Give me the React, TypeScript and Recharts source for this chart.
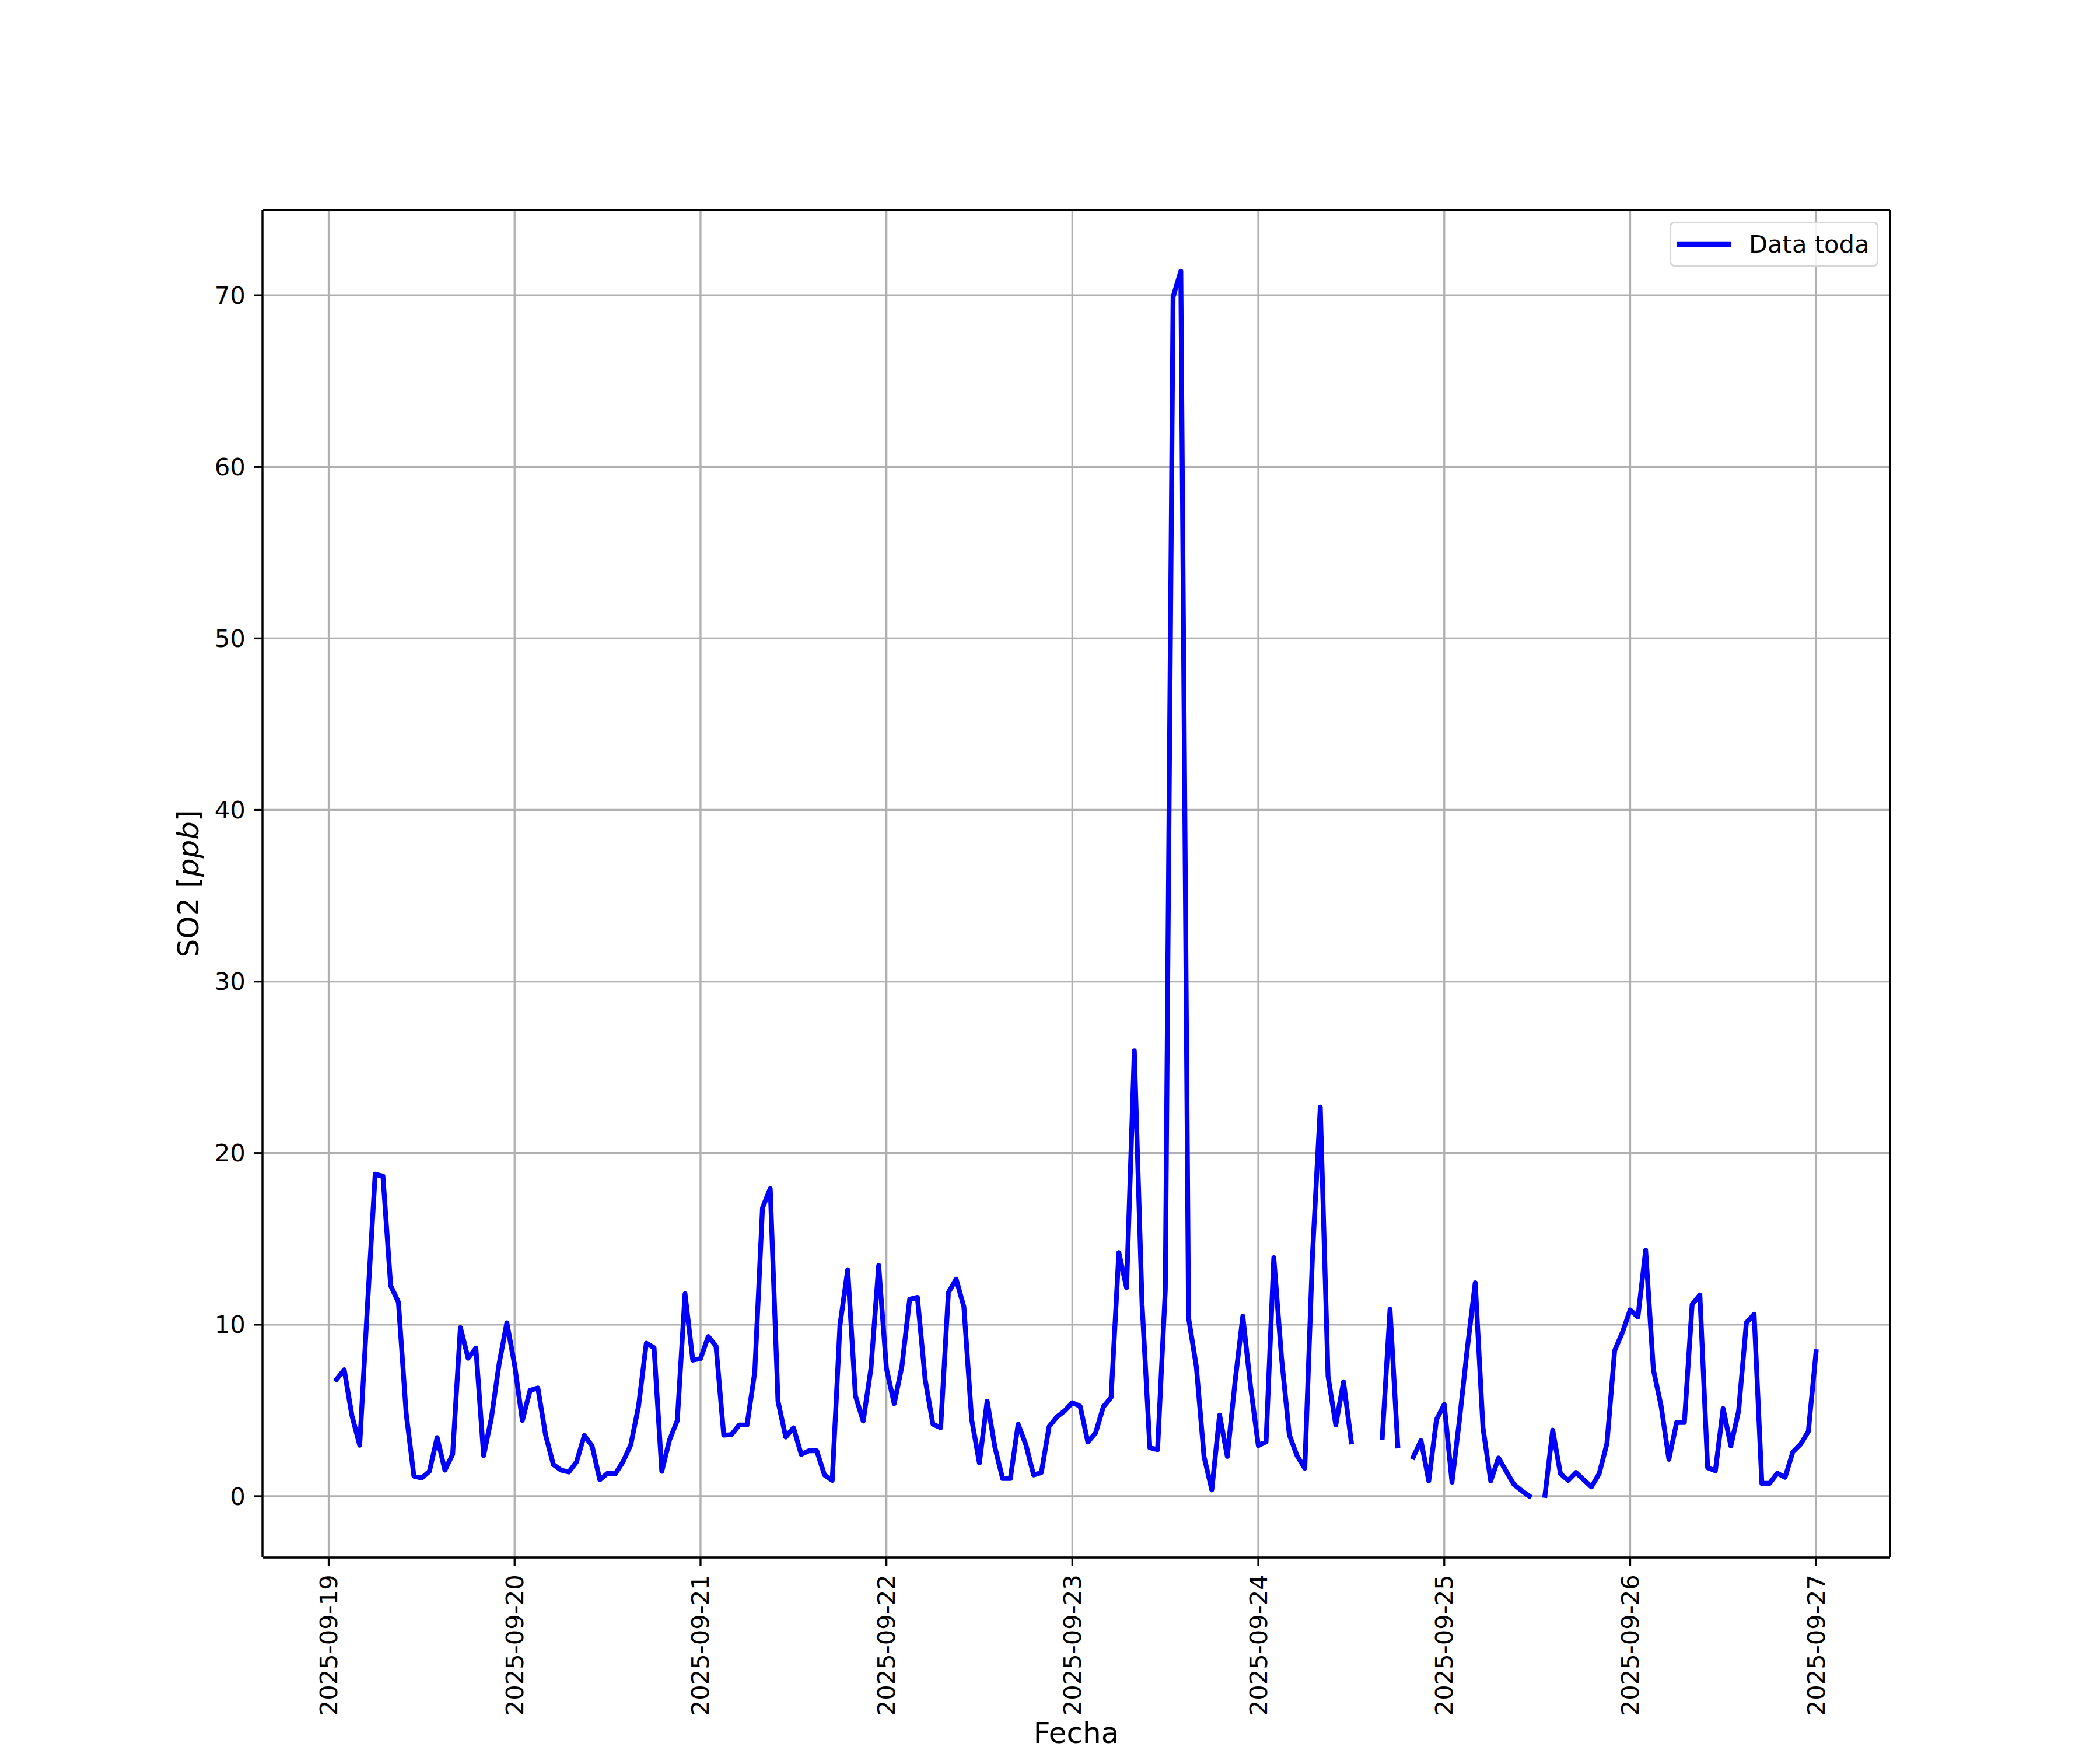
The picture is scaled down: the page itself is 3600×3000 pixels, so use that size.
import React from 'react';
import { LineChart, Line, XAxis, YAxis, CartesianGrid, Legend } from 'recharts';

// ---- data (hourly SO2, ppb) ----
const dateLabels = ['2025-09-19', '2025-09-20', '2025-09-21', '2025-09-22', '2025-09-23', '2025-09-24', '2025-09-25', '2025-09-26', '2025-09-27'];
const tickHours = [0, 24, 48, 72, 96, 120, 144, 168, 192];
const yTicks = [0, 10, 20, 30, 40, 50, 60, 70];
const firstHour = 1; // 2025-09-19 01:00
const so2_0919 = [6.8, 7.37, 4.69, 2.97, 11.1, 18.77, 18.66, 12.27, 11.31, 4.83, 1.17, 1.06, 1.45, 3.42, 1.52, 2.44, 9.83, 8.04, 8.63, 2.37, 4.55, 7.72, 10.11];
const so2_0920 = [7.65, 4.41, 6.17, 6.31, 3.56, 1.85, 1.52, 1.41, 2.01, 3.54, 2.93, 0.96, 1.34, 1.31, 2.01, 3.0, 5.25, 8.92, 8.66, 1.45, 3.28, 4.41, 11.8, 7.93];
const so2_0921 = [8.02, 9.31, 8.75, 3.56, 3.59, 4.15, 4.15, 7.23, 16.8, 17.93, 5.54, 3.45, 3.99, 2.44, 2.65, 2.65, 1.24, 0.92, 9.97, 13.2, 5.85, 4.38, 7.44, 13.45];
const so2_0922 = [7.44, 5.39, 7.58, 11.48, 11.59, 6.8, 4.2, 3.99, 11.87, 12.65, 11.03, 4.48, 1.94, 5.54, 2.86, 1.03, 1.03, 4.2, 3.0, 1.24, 1.38, 4.06, 4.62, 4.97];
const so2_0923 = [5.45, 5.25, 3.16, 3.69, 5.21, 5.76, 14.2, 12.15, 25.96, 11.17, 2.83, 2.71, 12.05, 69.9, 71.4, 10.39, 7.56, 2.29, 0.37, 4.73, 2.32, 6.68, 10.49, 6.39];
const so2_0924 = [2.95, 3.17, 13.9, 8.05, 3.58, 2.36, 1.63, 14.15, 22.68, 6.99, 4.15, 6.67, 3.17, null, null, null, 3.41, 10.89, 2.93, null, 2.28, 3.25, 0.89, 4.47];
const so2_0925 = [5.35, 0.82, 4.6, 8.7, 12.44, 3.99, 0.89, 2.23, 1.45, 0.68, 0.32, 0.0, null, 0.05, 3.85, 1.31, 0.92, 1.38, 0.96, 0.54, 1.31, 3.07, 8.49, 9.55];
const so2_0926 = [10.86, 10.44, 14.34, 7.37, 5.25, 2.15, 4.3, 4.3, 11.17, 11.73, 1.66, 1.48, 5.11, 2.93, 4.97, 10.11, 10.61, 0.75, 0.75, 1.34, 1.1, 2.58, 3.03, 3.77];
const so2_0927 = [8.42];

const allValues: (number | null)[] = [
  ...so2_0919, ...so2_0920, ...so2_0921, ...so2_0922, ...so2_0923,
  ...so2_0924, ...so2_0925, ...so2_0926, ...so2_0927,
];
const data = allValues.map((v, i) => ({ t: firstHour + i, v }));

// matplotlib-like autoscale (5% margins)
const numeric = allValues.filter((v): v is number => v !== null);
const yMin = Math.min(...numeric), yMax = Math.max(...numeric);
const yPad = (yMax - yMin) * 0.05;
const xMin = firstHour, xMax = firstHour + allValues.length - 1;
const xPad = (xMax - xMin) * 0.05;

// ---- styling ----
const PT = 300 / 72;
const FONT = '"DejaVu Sans", sans-serif';
const TICK_FS = 10 * PT;
const LABEL_FS = 12 * PT;
const TICK_LEN = 3.5 * PT;
const TICK_PAD = 3.5 * PT;
const SPINE_W = 0.8 * PT;
const LINE_W = 2 * PT;

const XTick = (props: any) => {
  const { x, y, payload } = props;
  const idx = tickHours.indexOf(payload.value);
  return (
    <g transform={`translate(${x},${y})`}>
      <text transform="rotate(-90)" x={0} y={0} textAnchor="end" dominantBaseline="central"
        fontFamily={FONT} fontSize={TICK_FS} fill="#000">{dateLabels[idx]}</text>
    </g>
  );
};

const YTick = (props: any) => {
  const { x, y, payload } = props;
  return (
    <text x={x} y={y} textAnchor="end" dominantBaseline="central" fontFamily={FONT} fontSize={TICK_FS} fill="#000">
      {payload.value}
    </text>
  );
};

const XLabel = (props: any) => {
  const vb = props.viewBox || { x: 450, y: 2670, width: 2790, height: 1 };
  return (
    <text x={vb.x + vb.width / 2} y={vb.y + 318} textAnchor="middle" fontFamily={FONT} fontSize={LABEL_FS} fill="#000">
      Fecha
    </text>
  );
};

const YLabel = (props: any) => {
  const vb = props.viewBox || { x: 449, y: 360, width: 1, height: 2310 };
  const cx = vb.x + vb.width - 110;
  const cy = vb.y + vb.height / 2;
  return (
    <text transform={`translate(${cx},${cy}) rotate(-90)`} textAnchor="middle" fontFamily={FONT} fontSize={LABEL_FS} fill="#000">
      SO2 [<tspan fontStyle="italic">ppb</tspan>]
    </text>
  );
};

const LegendBox = (props: any) => {
  const item = (props.payload || [])[0] || { value: 'Data toda', color: '#0000ff' };
  return (
    <div style={{
      boxSizing: 'border-box', width: 358, height: 77, border: `${SPINE_W}px solid #d6d6d6`,
      borderRadius: 8, background: 'rgba(255,255,255,0.8)', display: 'flex', alignItems: 'center', paddingLeft: 10,
    }}>
      <svg width={92} height={20} style={{ display: 'block' }}>
        <line x1={0} x2={92} y1={10} y2={10} stroke={item.color} strokeWidth={LINE_W} />
      </svg>
      <span style={{ marginLeft: 31, fontFamily: FONT, fontSize: TICK_FS, color: '#000', lineHeight: 1 }}>{item.value}</span>
    </div>
  );
};

export default function App() {
  return (
    <div style={{ position: 'absolute', left: 0, top: 0, width: 3600, height: 3000, background: '#fff' }}>
      <LineChart width={3600} height={3000} data={data} margin={{ top: 359, right: 359, bottom: 329, left: 449 }}>
        <CartesianGrid stroke="#b0b0b0" strokeWidth={SPINE_W} />
        <XAxis dataKey="t" type="number" domain={[xMin - xPad, xMax + xPad]} allowDataOverflow
          ticks={tickHours} interval={0} height={1} tickSize={TICK_LEN} tickMargin={TICK_PAD}
          axisLine={{ stroke: '#000', strokeWidth: SPINE_W }} tickLine={{ stroke: '#000', strokeWidth: SPINE_W }}
          tick={<XTick />} label={<XLabel />} />
        <XAxis xAxisId="top" dataKey="t" type="number" orientation="top" domain={[xMin - xPad, xMax + xPad]} allowDataOverflow
          height={1} tick={false} tickLine={false} axisLine={{ stroke: '#000', strokeWidth: SPINE_W }} />
        <YAxis type="number" domain={[yMin - yPad, yMax + yPad]} allowDataOverflow ticks={yTicks} interval={0}
          width={1} tickSize={TICK_LEN} tickMargin={TICK_PAD}
          axisLine={{ stroke: '#000', strokeWidth: SPINE_W }} tickLine={{ stroke: '#000', strokeWidth: SPINE_W }}
          tick={<YTick />} label={<YLabel />} />
        <YAxis yAxisId="right" orientation="right" type="number" domain={[yMin - yPad, yMax + yPad]} allowDataOverflow
          width={1} tick={false} tickLine={false} axisLine={{ stroke: '#000', strokeWidth: SPINE_W }} />
        <Legend layout="horizontal" verticalAlign="middle" align="center"
          wrapperStyle={{ left: 2862, top: 380, width: 358, height: 77 }} content={<LegendBox />} />
        <Line type="linear" dataKey="v" name="Data toda" stroke="#0000ff" strokeWidth={LINE_W}
          strokeLinejoin="round" strokeLinecap="square" dot={false} activeDot={false}
          connectNulls={false} isAnimationActive={false} />
      </LineChart>
    </div>
  );
}
